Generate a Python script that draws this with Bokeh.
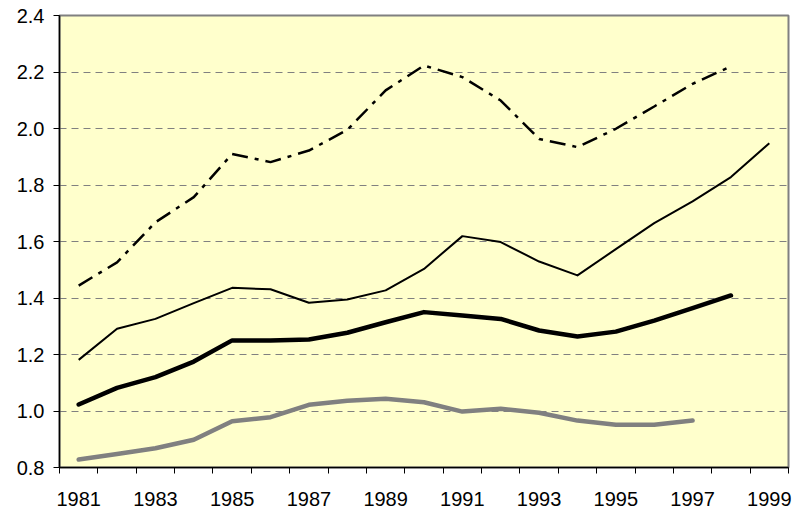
from bokeh.plotting import figure
from bokeh.models import Range1d, FixedTicker, NumeralTickFormatter
from bokeh.embed import file_html
from bokeh.resources import INLINE

years = list(range(1981, 2000))

dashdot = [1.444, 1.526, 1.668, 1.757, 1.910, 1.881, 1.922, 1.995, 2.135, 2.223,
           2.182, 2.099, 1.963, 1.934, 1.999, 2.078, 2.158, 2.220]
thin = [1.181, 1.291, 1.326, 1.382, 1.436, 1.431, 1.383, 1.395, 1.427, 1.503,
        1.619, 1.598, 1.529, 1.480, 1.573, 1.665, 1.742, 1.828, 1.948]
thick = [1.023, 1.082, 1.120, 1.175, 1.250, 1.250, 1.253, 1.277, 1.314, 1.350,
         1.338, 1.326, 1.285, 1.264, 1.281, 1.320, 1.364, 1.409]
gray = [0.828, 0.848, 0.868, 0.898, 0.964, 0.978, 1.022, 1.036, 1.043, 1.031,
        0.998, 1.008, 0.994, 0.966, 0.951, 0.951, 0.966]

y_ticks = [0.8, 1.0, 1.2, 1.4, 1.6, 1.8, 2.0, 2.2, 2.4]
x_label_years = [1981, 1983, 1985, 1987, 1989, 1991, 1993, 1995, 1997, 1999]
x_boundaries = [y - 0.5 for y in years] + [years[-1] + 0.5]

p = figure(width=794, height=510, output_backend="svg", toolbar_location=None,
           x_range=Range1d(1980.5, 1999.5), y_range=Range1d(0.8, 2.4),
           min_border_left=59, min_border_right=6, min_border_top=15, min_border_bottom=43)

p.background_fill_color = "#FFFFCC"
p.border_fill_color = "white"
p.outline_line_color = "#808080"
p.outline_line_width = 2

p.xgrid.grid_line_color = None
p.ygrid.grid_line_color = "#808080"
p.ygrid.grid_line_dash = "7 5"
p.ygrid.grid_line_width = 1
p.ygrid.ticker = FixedTicker(ticks=y_ticks)

p.yaxis.ticker = FixedTicker(ticks=y_ticks)
p.yaxis.formatter = NumeralTickFormatter(format="0.0")
p.yaxis.major_tick_out = 6
p.yaxis.major_tick_in = 0
p.yaxis.minor_tick_line_color = None
p.yaxis.major_label_standoff = 9
p.yaxis.axis_line_color = "black"
p.yaxis.axis_line_width = 1.5

p.xaxis.ticker = FixedTicker(ticks=x_label_years, minor_ticks=x_boundaries)
p.xaxis.major_tick_out = 0
p.xaxis.major_tick_in = 0
p.xaxis.minor_tick_out = 6
p.xaxis.minor_tick_in = 0
p.xaxis.minor_tick_line_color = "black"
p.xaxis.major_label_standoff = 18
p.xaxis.axis_line_color = "black"
p.xaxis.axis_line_width = 1.5

for ax in (p.xaxis, p.yaxis):
    ax.major_label_text_font = "Arial"
    ax.major_label_text_font_size = "20px"
    ax.major_label_text_font_style = "normal"
    ax.major_label_text_color = "black"

p.line(years[:len(gray)], gray, line_color="#808080", line_width=4.5, line_join="round", line_cap="round")
p.line(years[:len(thick)], thick, line_color="black", line_width=4.5, line_join="round", line_cap="round")
p.line(years[:len(thin)], thin, line_color="black", line_width=2, line_join="round")
p.line(years[:len(dashdot)], dashdot, line_color="black", line_width=2.5, line_dash="16 7 4 7")

open("out.html", "w").write(file_html(p, INLINE))
